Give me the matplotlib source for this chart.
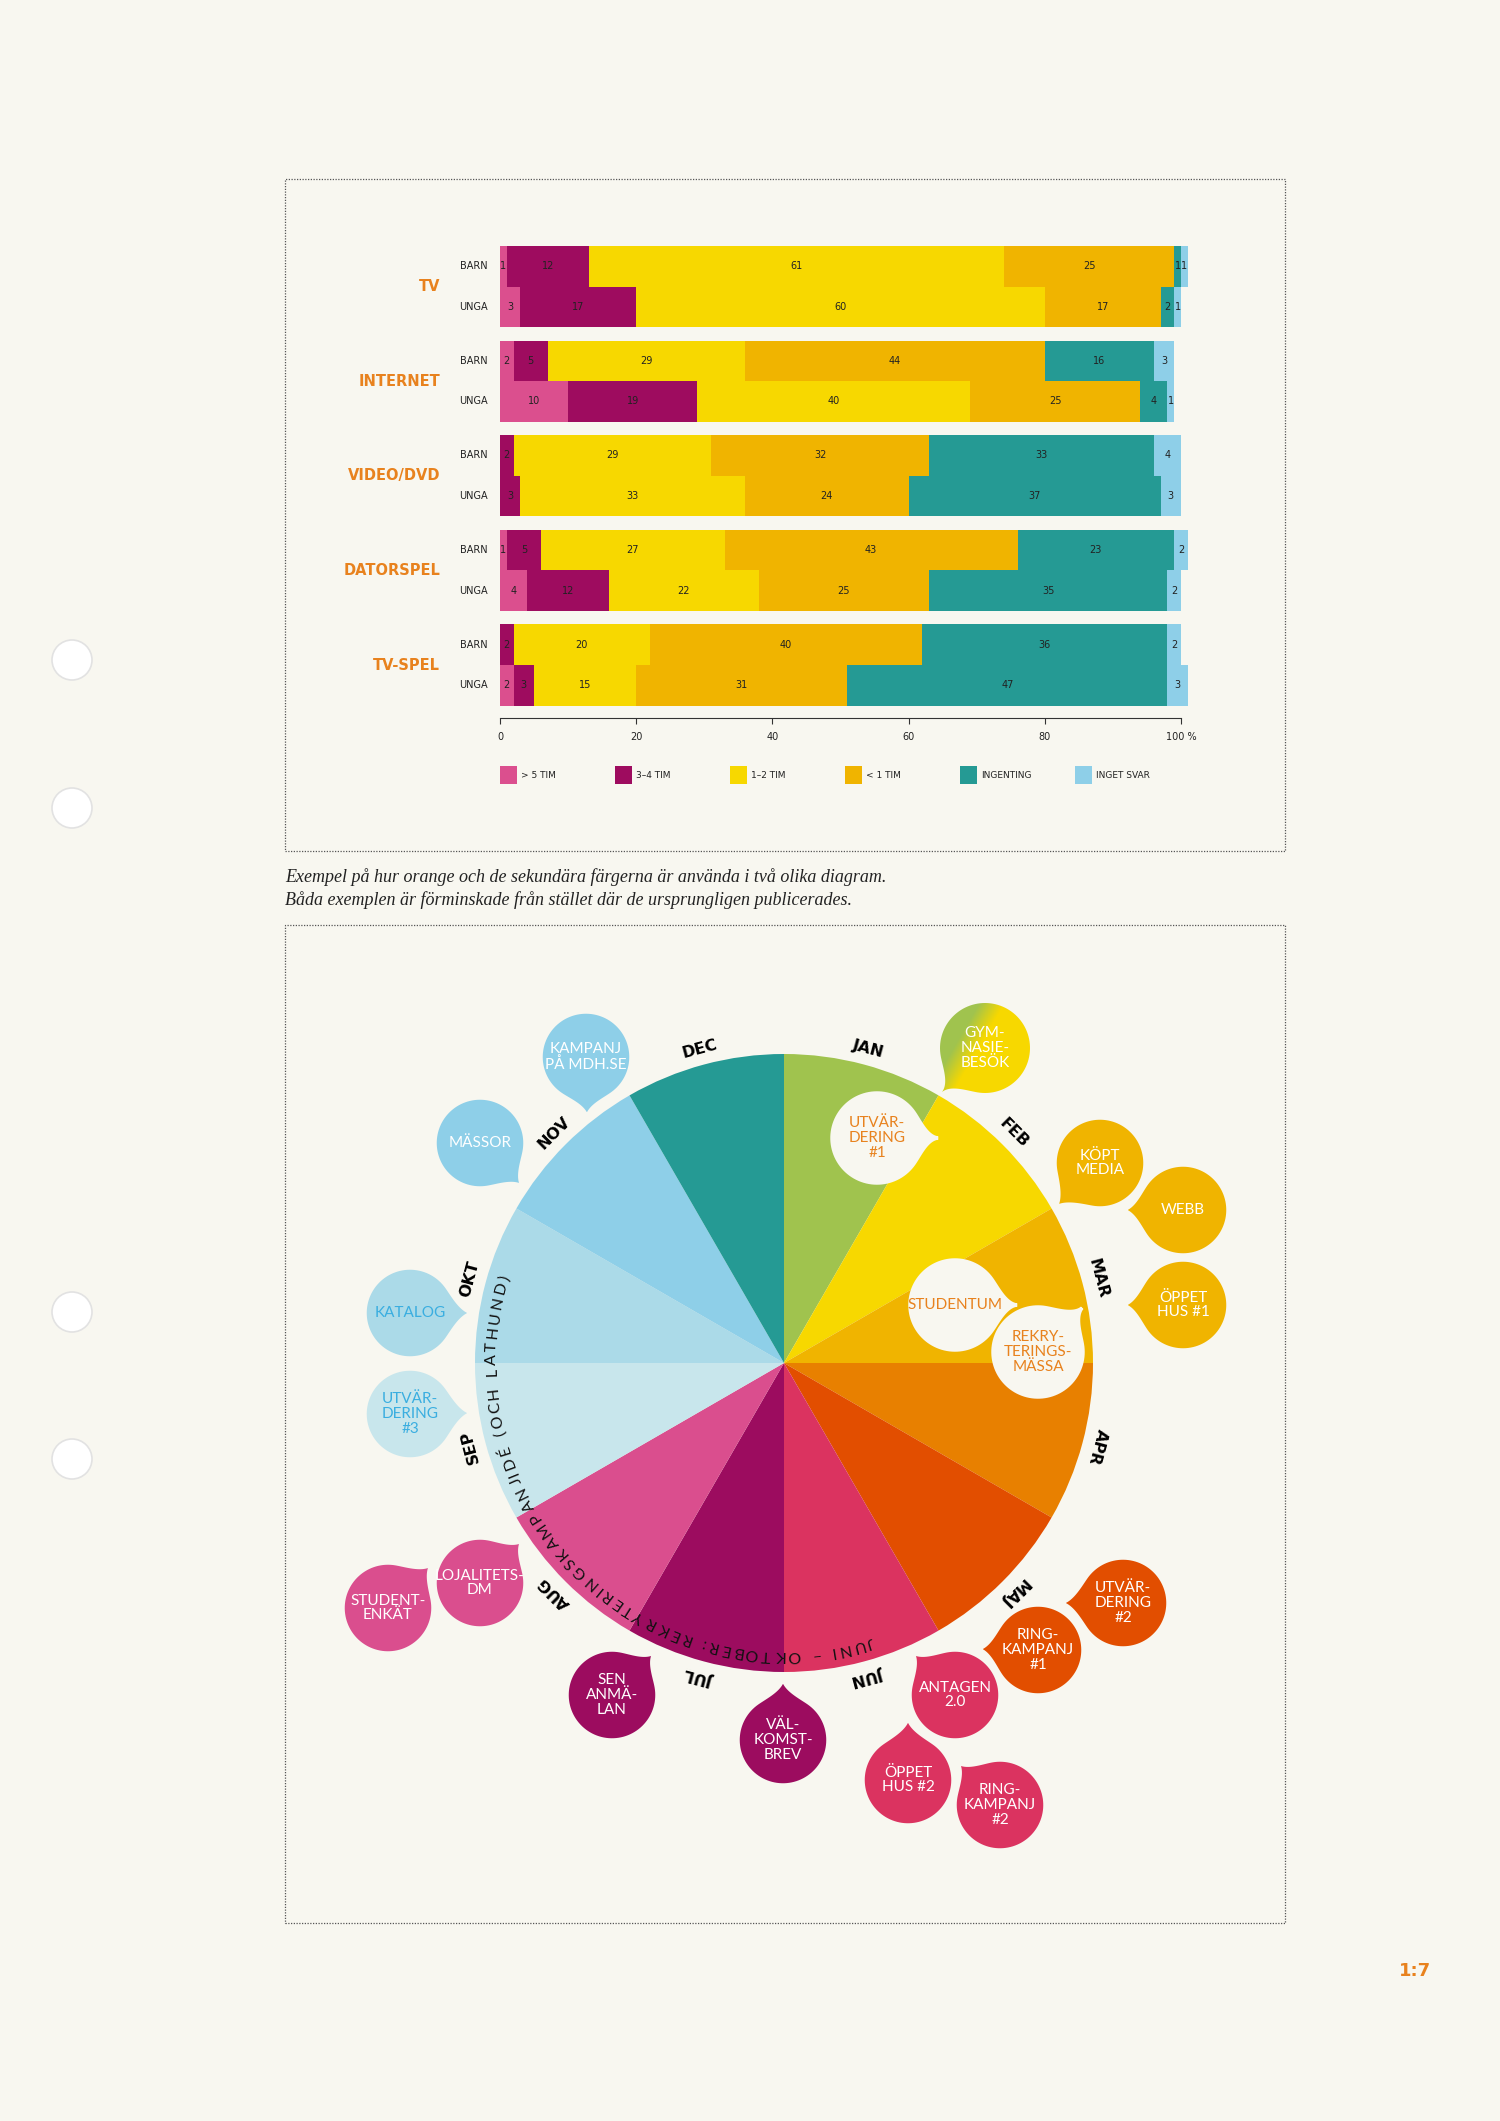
import numpy as np
import matplotlib.pyplot as plt
from matplotlib.patches import Rectangle, Circle, Polygon
from matplotlib.font_manager import FontProperties
from matplotlib.textpath import text_to_path

W, H = 1500, 2121
BG = '#F8F7F0'
ORANGE = '#E8821E'

# Stapeldiagram: tittartid per medium
kategorier = ['TV', 'INTERNET', 'VIDEO/DVD', 'DATORSPEL', 'TV-SPEL']
grupper = ['BARN', 'UNGA']
svar = ['> 5 TIM', '3–4 TIM', '1–2 TIM', '< 1 TIM', 'INGENTING', 'INGET SVAR']
svar_farger = ['#DB4F8E', '#9E0C5F', '#F7D800', '#F0B400', '#259A94', '#8ECFE8']
barn = [[1, 12, 61, 25, 1, 1],
        [2, 5, 29, 44, 16, 3],
        [0, 2, 29, 32, 33, 4],
        [1, 5, 27, 43, 23, 2],
        [0, 2, 20, 40, 36, 2]]
unga = [[3, 17, 60, 17, 2, 1],
        [10, 19, 40, 25, 4, 1],
        [0, 3, 33, 24, 37, 3],
        [4, 12, 22, 25, 35, 2],
        [2, 3, 15, 31, 47, 3]]
xticks = [0, 20, 40, 60, 80, 100]
xtick_text = ['0', '20', '40', '60', '80', '100 %']

# Årshjul
manader = ['JAN', 'FEB', 'MAR', 'APR', 'MAJ', 'JUN', 'JUL', 'AUG', 'SEP', 'OKT', 'NOV', 'DEC']
manad_farger = ['#A0C34E', '#F7D800', '#F0B400', '#E88000', '#E24E00', '#DB3360',
                '#9C0C5F', '#DA4E8E', '#C8E6EC', '#ABDAE8', '#8ECFE8', '#259A94']
bana_text = 'JUNI – OKTOBER: REKRYTERINGSKAMPANJIDÉ (OCH LATHUND)'

bubbel_text = ['KAMPANJ\nPÅ MDH.SE', 'MÄSSOR', 'KATALOG', 'UTVÄR-\nDERING\n#3',
               'GYM-\nNASIE-\nBESÖK', 'UTVÄR-\nDERING\n#1', 'WEBB', 'KÖPT\nMEDIA',
               'ÖPPET\nHUS #1', 'STUDENTUM', 'REKRY-\nTERINGS-\nMÄSSA',
               'STUDENT-\nENKÄT', 'LOJALITETS-\nDM', 'SEN\nANMÄ-\nLAN', 'VÄL-\nKOMST-\nBREV',
               'UTVÄR-\nDERING\n#2', 'RING-\nKAMPANJ\n#1', 'ANTAGEN\n2.0', 'ÖPPET\nHUS #2',
               'RING-\nKAMPANJ\n#2']
bubbel_manad = ['NOV', 'NOV', 'OKT', 'SEP', 'JAN/FEB', '', 'MAR', 'MAR', 'MAR', '', '',
                'AUG', 'AUG', 'JUL', 'JUL', 'MAJ', 'MAJ', 'JUN', 'JUN', 'JUN']
# mittpunkt och spets (pixlar uppifrån)
bubbel_pos = [((586, 1057), (587, 1118)), ((480, 1143), (523, 1187)),
              ((410, 1313), (473, 1313)), ((410, 1414), (473, 1413)),
              ((985, 1048), (942, 1092)), ((877, 1138), (938, 1138)),
              ((1183, 1210), (1122, 1210)), ((1100, 1163), (1055, 1208)),
              ((1183, 1305), (1122, 1305)), ((955, 1305), (1017, 1305)),
              ((1038, 1352), (1082, 1308)), ((388, 1608), (432, 1564)),
              ((480, 1583), (523, 1540)), ((612, 1695), (655, 1652)),
              ((783, 1740), (783, 1678)), ((1123, 1603), (1060, 1603)),
              ((1038, 1650), (977, 1649)), ((955, 1695), (912, 1652)),
              ((908, 1780), (908, 1717)), ((1000, 1805), (957, 1762))]

SANS = ['Lato', 'DejaVu Sans']
NARROW = ['Liberation Sans Narrow', 'DejaVu Sans']

fig = plt.figure(figsize=(W / 100, H / 100), dpi=100, facecolor=BG)
ax = fig.add_axes([0, 0, 1, 1])
ax.set_facecolor(BG)


def Y(p):
    return H - p


# ramar, hål, bildtext
ax.add_patch(Rectangle((285, Y(851)), 1000, 672, fill=False, ec='#555555', lw=0.9, ls=(0, (1, 1.2))))
ax.add_patch(Rectangle((285, Y(1923)), 1000, 998, fill=False, ec='#555555', lw=0.9, ls=(0, (1, 1.2))))
for hy in [660, 808, 1312, 1459]:
    ax.add_patch(Circle((72, Y(hy)), 20, fc='white', ec='#E2E2E2', lw=1.2))
ax.text(285, Y(877), 'Exempel på hur orange och de sekundära färgerna är använda i två olika diagram.',
        family='Liberation Serif', style='italic', fontsize=13, color='#222222', va='center')
ax.text(285, Y(900), 'Båda exemplen är förminskade från stället där de ursprungligen publicerades.',
        family='Liberation Serif', style='italic', fontsize=13, color='#222222', va='center')
ax.text(1415, Y(1971), '1:7', fontsize=13, fontweight='bold', color=ORANGE, ha='center', va='center')

# hjulet
cx, cy, R = 784, Y(1363), 309
ax.pie([1] * 12, colors=manad_farger, startangle=90, counterclock=False, radius=R,
       center=(cx, cy), wedgeprops=dict(linewidth=0), frame=True)

for i, m in enumerate(manader):
    v = 90 - 15 - 30 * i
    rad = np.radians(v)
    ax.text(cx + 325 * np.cos(rad), cy + 325 * np.sin(rad), m, rotation=(v - 90) % 360,
            rotation_mode='anchor', ha='center', va='center', fontsize=11.5,
            fontweight='bold', color='black')

# text längs insidan av hjulet, jämnt spärrad efter bokstavsbredd
fp = FontProperties(family=SANS, size=11.5)
bredd = np.array([text_to_path.get_text_width_height_descent(ch, fp, ismath=False)[0]
                  for ch in bana_text]) * 100 / 72
rb = 292
start, slut = 287, 163
total = np.radians(start - slut) * rb
sparr = (total - bredd[0] / 2 - bredd[-1] / 2 - bredd[1:-1].sum()) / (len(bana_text) - 1)
pos = np.concatenate([[0], np.cumsum((bredd[:-1] + bredd[1:]) / 2 + sparr)])
vinklar = start - np.degrees(pos / rb)
for ch, v in zip(bana_text, vinklar):
    rad = np.radians(v)
    ax.text(cx + rb * np.cos(rad), cy + rb * np.sin(rad), ch, rotation=(v - 90) % 360,
            rotation_mode='anchor', ha='center', va='center', fontproperties=fp,
            color='#111111', zorder=5)


def bez(p0, p1, p2, p3, n=24):
    s = np.linspace(0, 1, n)[:, None]
    return (1 - s) ** 3 * p0 + 3 * (1 - s) ** 2 * s * p1 + 3 * (1 - s) * s ** 2 * p2 + s ** 3 * p3


def droppe(c, tip, r=45):
    dx, dy = tip[0] - c[0], tip[1] - c[1]
    d = np.hypot(dx, dy) / r
    phi = np.arctan2(dy, dx)
    a = np.radians(35)
    t = np.linspace(a, 2 * np.pi - a, 90)
    arc = np.c_[np.cos(t), np.sin(t)]
    p0 = np.array([np.cos(a), -np.sin(a)])
    p1 = p0 + 0.25 * np.array([np.sin(a), np.cos(a)])
    p2 = np.array([d - 0.25, -0.03])
    p3 = np.array([d, 0.0])
    low = bez(p0, p1, p2, p3)
    up = low[::-1] * [1, -1]
    pts = np.vstack([arc, low[1:], up[1:]]) * r
    rot = np.array([[np.cos(phi), -np.sin(phi)], [np.sin(phi), np.cos(phi)]])
    return pts @ rot.T + np.array(c)


for txt, man, (c, tip) in zip(bubbel_text, bubbel_manad, bubbel_pos):
    c = (c[0], Y(c[1]))
    tip = (tip[0], Y(tip[1]))
    pts = droppe(c, tip)
    tc = 'white'
    if man == '':
        fc, tc = BG, ORANGE
    elif man == 'JAN/FEB':
        fc = 'none'
    else:
        fc = manad_farger[manader.index(man)]
        if man in ('OKT', 'SEP'):
            tc = '#3AAEE0'
    poly = Polygon(pts, closed=True, fc=fc, ec=BG, lw=2.5, zorder=3)
    ax.add_patch(poly)
    if man == 'JAN/FEB':
        x0, x1 = c[0] - 70, c[0] + 70
        y0, y1 = c[1] - 70, c[1] + 70
        gx, gy = np.meshgrid(np.linspace(x0, x1, 140), np.linspace(y0, y1, 140))
        n = np.array([np.sin(np.radians(60)), -np.cos(np.radians(60))])
        s = (gx - cx) * n[0] + (gy - cy) * n[1]
        f = np.clip(0.5 + s / 22, 0, 1)[..., None]
        g1 = np.array([0xA0, 0xC3, 0x4E]) / 255
        g2 = np.array([0xF7, 0xD8, 0x00]) / 255
        img = g1 * (1 - f) + g2 * f
        im = ax.imshow(img, extent=[x0, x1, y0, y1], origin='lower', zorder=3.5)
        im.set_clip_path(poly)
    ax.text(c[0], c[1], txt, ha='center', va='center', ma='center', fontsize=11,
            family=SANS, color=tc, linespacing=1.05, zorder=4)

ax.set_xlim(0, W)
ax.set_ylim(0, H)
ax.set_aspect('auto')
ax.axis('off')

# stapeldiagram
px = 681 / 100
enhet = 40.6
steg = 94.6 / enhet
bx = fig.add_axes([500 / W, 1 - 718 / H, 681 / W, 472 / H])
bx.set_facecolor('none')
for i, kat in enumerate(kategorier):
    for j, rad in enumerate([barn[i], unga[i]]):
        y = i * steg + j + 0.5
        vans = np.concatenate([[0], np.cumsum(rad)[:-1]])
        bars = bx.barh([y] * len(rad), rad, left=vans, height=1.0, color=svar_farger, lw=0)
        for b in bars:
            b.set_clip_on(False)
        for v, l in zip(rad, vans):
            if v > 0:
                bx.text(l + v / 2, y, str(v), ha='center', va='center', fontsize=7,
                        family=NARROW, color='#222222')
        bx.text(-1.8, y, grupper[j], ha='right', va='center', fontsize=7,
                family=NARROW, color='#222222')
    bx.text(-8.8, i * steg + 1.0, kat, ha='right', va='center', fontsize=10.5,
            family=NARROW, fontweight='bold', color=ORANGE)

bx.set_xlim(0, 100)
bx.set_ylim(472 / enhet, 0)
bx.set_yticks([])
bx.set_xticks(xticks)
bx.set_xticklabels(xtick_text, fontsize=7, family=NARROW, color='#222222')
bx.tick_params(axis='x', length=4, width=0.8, color='#333333', pad=6)
for s in ['top', 'right', 'left']:
    bx.spines[s].set_visible(False)
bx.spines['bottom'].set_color('#333333')
bx.spines['bottom'].set_linewidth(0.8)
bx.spines['bottom'].set_bounds(0, 100)

ly = (775 - 246) / enhet
for k, (namn, col) in enumerate(zip(svar, svar_farger)):
    x = k * 115 / px
    bx.add_patch(Rectangle((x, ly - 0.21), 17 / px, 0.42, fc=col, lw=0, clip_on=False))
    bx.text(x + 17 / px + 0.6, ly, namn, ha='left', va='center', fontsize=6.5,
            family=NARROW, color='#222222', clip_on=False)

fig.savefig('out.png', dpi=100, facecolor=BG)
